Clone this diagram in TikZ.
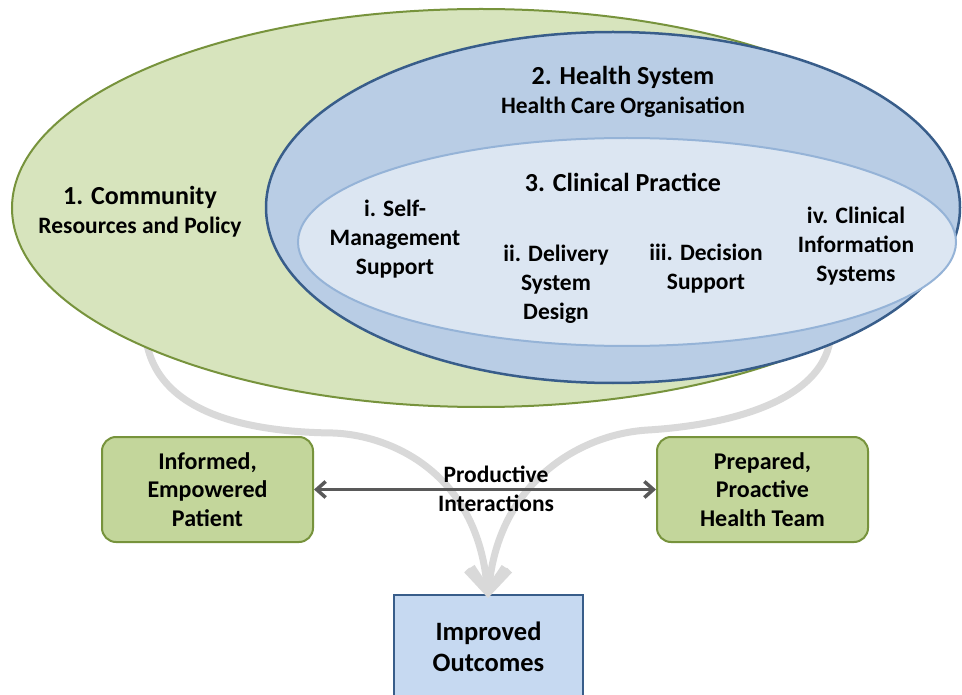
\documentclass[tikz,border=0pt]{standalone}
\usepackage{fontspec}
\setmainfont{Carlito}
\usetikzlibrary{shapes.geometric,arrows.meta}
\definecolor{commfill}{HTML}{D7E4BD}
\definecolor{commdraw}{HTML}{77933C}
\definecolor{hsfill}{HTML}{B9CDE5}
\definecolor{hsdraw}{HTML}{385D8A}
\definecolor{cpfill}{HTML}{DCE6F2}
\definecolor{cpdraw}{HTML}{95B3D7}
\definecolor{boxfill}{HTML}{C3D69B}
\definecolor{outfill}{HTML}{C6D9F1}
\definecolor{flowgray}{HTML}{D9D9D9}
\definecolor{arrowgray}{HTML}{595959}
\begin{document}
\begin{tikzpicture}[x=1pt,y=-1pt,
  lbl/.style={font=\bfseries\fontsize{23.5}{29}\selectfont, align=center, inner sep=0pt},
  headlbl/.style={font=\bfseries\fontsize{26}{29}\selectfont, align=center, inner sep=0pt},
  ringshape/.style={ellipse, inner sep=0pt},
  greenbox/.style={draw=commdraw, fill=boxfill, line width=2pt, rounded corners=14pt,
    minimum width=211pt, minimum height=105pt, inner sep=0pt,
    font=\bfseries\fontsize{24}{28.5}\selectfont, align=center},
  outbox/.style={draw=hsdraw, fill=outfill, line width=2pt, minimum width=189pt,
    minimum height=110pt, inner sep=0pt},
  flow/.style={draw=flowgray, line width=7pt,
    -{Straight Barb[length=24pt,width=38pt,line width=7pt]}},
  interact/.style={draw=arrowgray, line width=3.5pt,
    {Straight Barb[length=9pt,width=16pt]}-{Straight Barb[length=9pt,width=16pt]}}
]
\clip (0,0) rectangle (962,695);
\fill[white] (0,0) rectangle (962,695);

% bottom outcome box (anchored for the flows)
\node[outbox, anchor=north] (out) at (488.5,594) {};
\coordinate (tipL) at (488,598);
\coordinate (startL) at (145,330);
\coordinate (startR) at (831,330);

% grey flows behind the ellipses
\draw[flow] (startL) .. controls (150,410) and (240,432) .. (333,433)
  .. controls (390,435) and (478,472) .. (tipL);
\draw[flow] (startR) .. controls (830,400) and (730,425) .. (648,430)
  .. controls (580,434) and (498,482) .. (tipL);

% ellipses
\node[ringshape, draw=commdraw, fill=commfill, line width=2pt,
  minimum width=938pt, minimum height=398pt] (community) at (481,208) {};
\node[ringshape, draw=hsdraw, fill=hsfill, line width=2.5pt,
  minimum width=694pt, minimum height=351pt] (health) at (613,207.5) {};
\node[ringshape, draw=cpdraw, fill=cpfill, line width=2pt,
  minimum width=658pt, minimum height=208pt] (clinical) at (627,242) {};

% ellipse labels
\node[headlbl] (commT) at (140,197) {1. Community};
\node[lbl] (commS) at (140,227) {Resources and Policy};
\node[headlbl] (hsT) at (623,77) {2. Health System};
\node[lbl] (hsS) at (623,107) {Health Care Organisation};
\node[headlbl] (cpT) at (623,182) {3. Clinical Practice};
\node[lbl] (selfm) at (395,239) {i. Self-\\Management\\Support};
\node[lbl] (deliv) at (556,284) {ii. Delivery\\System\\Design};
\node[lbl] (decis) at (706,269) {iii. Decision\\Support};
\node[lbl] (cis) at (856,246) {iv. Clinical\\Information\\Systems};

% boxes
\node[greenbox] (patient) at (207.5,489.5) {Informed,\\Empowered\\Patient};
\node[greenbox] (team) at (762.5,489.5) {Prepared,\\Proactive\\Health Team};
\draw[interact] (patient.east) -- (team.west);
\node[lbl] (prod) at (496,489) {Productive\\Interactions};

\node[font=\bfseries\fontsize{26.5}{31}\selectfont, align=center, inner sep=0pt] (outT)
  at (488.5,647) {Improved\\Outcomes};
\end{tikzpicture}
\end{document}
